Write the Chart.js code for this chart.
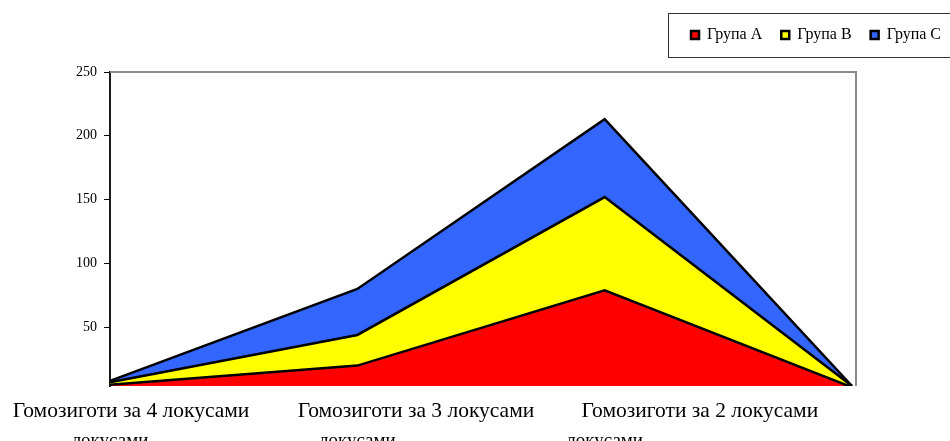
<!DOCTYPE html>
<html>
<head>
<meta charset="utf-8">
<script src="https://cdn.jsdelivr.net/npm/chart.js@4/dist/chart.umd.min.js"></script>
<style>
  html, body { margin: 0; padding: 0; background: #fff; overflow: hidden; }
  #wrap { position: relative; width: 960px; height: 441px; }
</style>
</head>
<body>
<div id="wrap"><canvas id="chart"></canvas></div>
<script>
// Categories along the x axis
const categories = [
  'Гомозиготи за 4 локусами',
  'Гомозиготи за 3 локусами',
  'Гомозиготи за 2 локусами',
  ''
];
const seriesNames = ['Група A', 'Група B', 'Група C'];

// Values per group (stacked)
const groupA = [5, 20, 79, 3];
const groupB = [2, 24, 73, 1];
const groupC = [1, 36, 61, 0];

// Value axis labels
const yTickValues = [50, 100, 150, 200, 250];

// Where the long category captions sit along the category range
const captionSlots = [0.085, 1.237, 2.385];
const LEGEND_TOP = 8;

const serif = 'Liberation Serif, Times New Roman, serif';

const framePlugin = {
  id: 'frame',
  afterLayout(chart) {
    const lg = chart.legend;
    if (!lg) return;
    const dy = lg.top - LEGEND_TOP;
    lg.top -= dy;
    lg.bottom -= dy;
  },
  beforeDatasetsDraw(chart) {
    const { ctx, chartArea: a } = chart;
    ctx.save();
    ctx.strokeStyle = '#8c8c8c';
    ctx.lineWidth = 2;
    ctx.beginPath();
    ctx.moveTo(a.left, a.top);
    ctx.lineTo(a.right + 4, a.top);
    ctx.lineTo(a.right + 4, a.bottom);
    ctx.stroke();
    ctx.restore();
  },
  afterDraw(chart) {
    const lg = chart.legend;
    const hb = lg && lg.legendHitBoxes;
    if (!hb || !hb.length) return;
    const { ctx } = chart;
    const cy = hb[0].top + hb[0].height / 2;
    ctx.save();
    ctx.strokeStyle = '#333';
    ctx.lineWidth = 1;
    ctx.strokeRect(Math.round(hb[0].left - 23) + 0.5, Math.round(cy - 22) + 0.5, chart.width, 44);
    ctx.restore();
  }
};

const makeSet = (label, data, color, fill) => ({
  label,
  data,
  backgroundColor: color,
  borderColor: '#000',
  borderWidth: 2.5,
  fill,
  pointRadius: 0,
  pointHoverRadius: 0,
  tension: 0
});

new Chart(document.getElementById('chart'), {
  type: 'line',
  data: {
    labels: categories,
    datasets: [
      makeSet(seriesNames[0], groupA, '#ff0000', 'origin'),
      makeSet(seriesNames[1], groupB, '#ffff00', '-1'),
      makeSet(seriesNames[2], groupC, '#3366ff', '-1')
    ]
  },
  options: {
    responsive: true,
    maintainAspectRatio: false,
    animation: false,
    events: [],
    layout: { padding: 0 },
    plugins: {
      legend: {
        position: 'top',
        align: 'end',
        labels: {
          boxWidth: 8,
          boxHeight: 8,
          padding: 19,
          color: '#000',
          font: { family: serif, size: 16 }
        }
      },
      tooltip: { enabled: false }
    },
    scales: {
      x: {
        type: 'category',
        position: 'bottom',
        weight: 1,
        offset: false,
        grid: { display: false, drawTicks: false },
        border: { display: false },
        ticks: {
          autoSkip: false,
          maxRotation: 0,
          padding: 6,
          color: '#000',
          font: { family: serif, size: 19 },
          callback(value) { return this.getLabelForValue(value).split(' ').pop(); }
        },
        afterFit: s => { s.height = 17; s.paddingLeft = 0; s.paddingRight = 0; }
      },
      x2: {
        type: 'linear',
        position: 'bottom',
        weight: 0,
        min: 0,
        max: 3,
        afterBuildTicks: s => { s.ticks = captionSlots.map(v => ({ value: v })); },
        grid: { display: false, drawTicks: false },
        border: { display: false },
        ticks: {
          autoSkip: false,
          maxRotation: 0,
          padding: 12,
          color: '#000',
          font: { family: serif, size: 21.5 },
          callback: (v, i) => categories[i]
        },
        afterFit: s => { s.height = 38; s.paddingLeft = 0; s.paddingRight = 108; }
      },
      y: {
        stacked: true,
        min: 4,
        max: 250,
        afterBuildTicks: s => { s.ticks = yTickValues.map(v => ({ value: v })); },
        afterFit: s => { s.width = 110; s.paddingTop = 72; },
        grid: { display: true, drawOnChartArea: false, drawTicks: true, tickLength: 6, color: '#000', lineWidth: 1 },
        border: { display: true, color: '#1a1a1a', width: 2 },
        ticks: { color: '#000', padding: 7, font: { family: serif, size: 14 } }
      }
    }
  },
  plugins: [framePlugin]
});
</script>
</body>
</html>
